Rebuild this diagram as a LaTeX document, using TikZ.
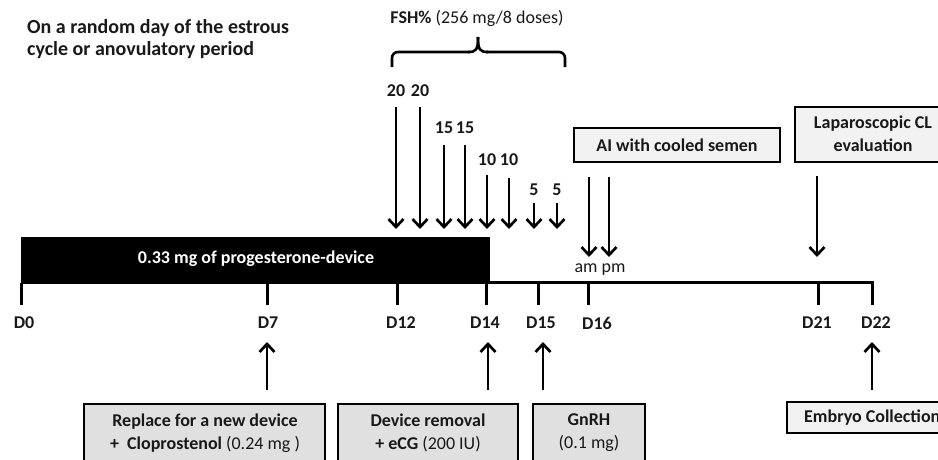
\documentclass[tikz,border=0pt]{standalone}
\usepackage{fontspec}
\setmainfont{Carlito}
\usetikzlibrary{arrows.meta}
\newcommand\mysz{\fontsize{18pt}{23pt}\selectfont}
\newcommand\myintro{\fontsize{20pt}{22pt}\selectfont}
\begin{document}
\begin{tikzpicture}[x=1pt,y=-1pt,
  every node/.style={font=\mysz\bfseries, text=black!90, inner sep=0pt},
  reg/.style={font=\mysz},
  arr/.style={line width=2.7pt, -{Straight Barb[length=8pt,width=15pt]}},
  tick/.style={line width=3pt},
  boxd/.style={draw=black, line width=2.6pt, fill=black!12},
  boxl/.style={draw=black, line width=2.6pt, fill=black!5}]
\useasboundingbox (0,0) rectangle (938,459);

% top-left text
\node[anchor=west, align=left, font=\myintro\bfseries] (intro) at (27,39) {On a random day of the estrous\\cycle or anovulatory period};

% FSH heading and brace
\node (fsh) at (477,18) {FSH\% \mdseries(256 mg/8 doses)};
\coordinate (brL) at (392,67);
\coordinate (brR) at (565,67);
\coordinate (brT) at (478,37);
\draw[line width=2.6pt, rounded corners=6pt] (brL) -- (392,52) -- (470,52);
\draw[line width=2.6pt, rounded corners=6pt] (brR) -- (565,52) -- (486,52);
\draw[line width=2.6pt] (468,52) .. controls (476,52) and (478,50) .. (brT);
\draw[line width=2.6pt] (488,52) .. controls (480,52) and (478,50) .. (brT);

% progesterone bar and timeline
\fill[black] (21,237) rectangle (490,284);
\node[text=white] (bar) at (256,259) {0.33 mg of progesterone-device};
\coordinate (tlA) at (488,282);
\coordinate (tlB) at (873.5,282);
\draw[tick] (tlA) -- (tlB);

% ticks and day labels
\foreach \x/\lx/\d in {21/24/D0,267/268/D7,397/401/D12,486/485/D14,538/541/D15,588/597/D16,818/817/D21,872/876/D22}{
  \coordinate (t\d) at (\x,283);
  \coordinate (b\d) at (\x,305);
  \draw[tick] (t\d) -- (b\d);
  \node (l\d) at (\lx,323) {\d};
}

% FSH doses
\foreach \x/\ys/\n/\ly/\k in {396/107/20/91/1,420/107/20/91/2,444/145/15/128/3,465/145/15/128/4,487/175/10/160/5,509/178/10/160/6,534/203/5/190/7,557/203/5/190/8}{
  \node (dose\k) at (\x,\ly) {\n};
  \coordinate (ds\k) at (\x,\ys);
  \coordinate (de\k) at (\x,229);
  \draw[arr] (ds\k) -- (de\k);
}

% AI box and arrows
\path[boxl] (574,128) rectangle (780,162);
\node (ai) at (677,145) {AI with cooled semen};
\coordinate (am1) at (589,177); \coordinate (am2) at (589,257);
\coordinate (pm1) at (609,177); \coordinate (pm2) at (609,257);
\draw[arr] (am1) -- (am2);
\draw[arr] (pm1) -- (pm2);
\node[reg] (ampm) at (600,270) {am pm};

% Laparoscopic box and arrow
\path[boxl] (795,107) rectangle (960,162);
\node[align=center] (lap) at (873,134) {Laparoscopic CL\\evaluation};
\coordinate (lp1) at (817,176); \coordinate (lp2) at (817,257);
\draw[arr] (lp1) -- (lp2);

% bottom boxes
\path[boxd] (84,404) rectangle (325,480);
\node[align=center] (rep) at (205,433) {Replace for a new device\\+\ \ Cloprostenol \mdseries(0.24 mg )};
\path[boxd] (338,404) rectangle (518,480);
\node[align=center] (dev) at (428,433) {Device removal\\+ eCG \mdseries(200 IU)};
\path[boxd] (533,404) rectangle (645,480);
\node[align=center] (gnrh) at (589,433) {GnRH\\\mdseries(0.1 mg)};
\path[boxl] (787,402) rectangle (960,433);
\node[anchor=west] (emb) at (804,418) {Embryo Collection};

% up arrows
\foreach \x/\k in {267/a,488/b,543/c,872/d}{
  \coordinate (us\k) at (\x,390);
  \coordinate (ue\k) at (\x,342);
  \draw[arr] (us\k) -- (ue\k);
}
\end{tikzpicture}
\end{document}
